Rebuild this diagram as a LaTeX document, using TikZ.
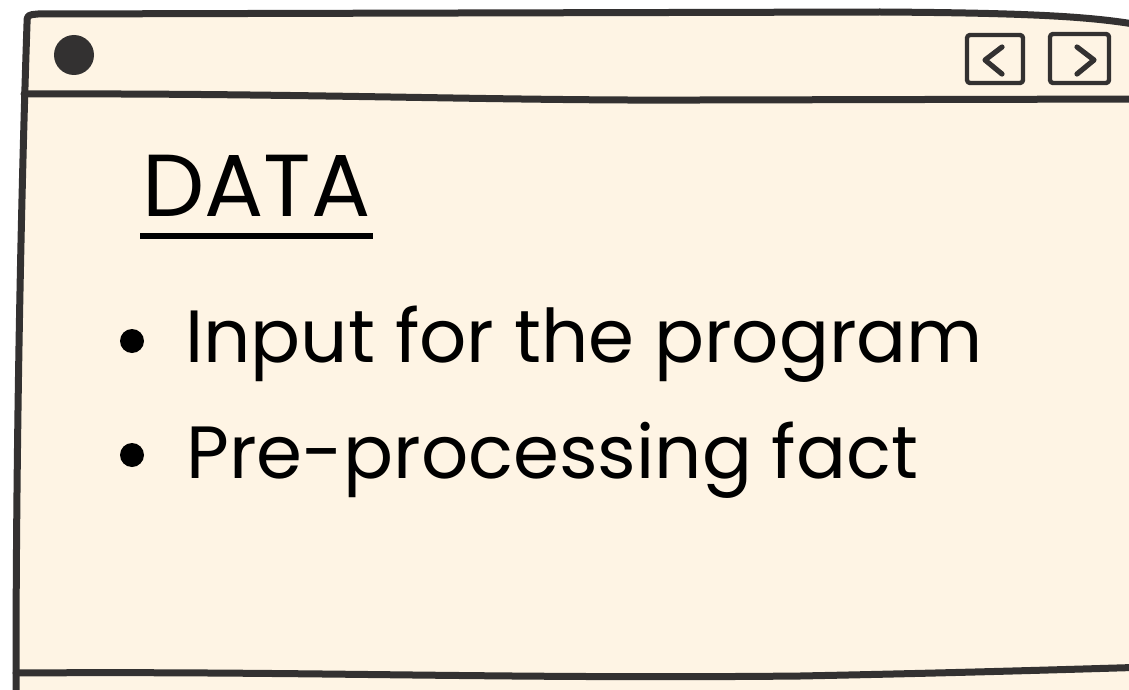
\documentclass[tikz,border=0pt]{standalone}
\usepackage{fontspec}
\setmainfont{Poppins}
\usepackage{tikz}
\definecolor{paper}{HTML}{FEF4E4}
\definecolor{ink}{HTML}{333131}

\begin{document}
\begin{tikzpicture}[x=0.5pt, y=-0.5pt, line join=round, line cap=round,
  frame/.style={draw=ink, line width=3.5pt},
  btn/.style={draw=ink, line width=2.2pt, rounded corners=1.5pt},
  chevron/.style={draw=ink, line width=2.6pt},
  itemtext/.style={anchor=base west, inner sep=0pt, font=\fontsize{37}{44}\selectfont},
  titletext/.style={anchor=base west, inner sep=0pt, font=\fontsize{44}{52}\selectfont}]
  \clip (0,0) rectangle (1129,690);
  \fill[white] (0,0) rectangle (1129,690);

  % --- window body ---
  \filldraw[frame, fill=paper] (27,24) .. controls (27,15) .. (38,14)
       -- (880,12) .. controls (1040,13) and (1100,17) .. (1150,27)
       -- (1150,710) -- (40,700) .. controls (16,700) .. (16,680)
       .. controls (16,450) and (21,200) .. (27,24) -- cycle;

  % --- title bar: dot and the two arrow buttons ---
  \draw[frame] (24,94) .. controls (300,93) and (500,101) .. (700,100) -- (1150,99);
  \fill[ink] (74,55) circle (10pt);
  \draw[btn] (967,35) rectangle (1023,83);
  \draw[btn] (1050,34) rectangle (1109,83);
  \draw[chevron] (1002,47) -- (985,60) -- (1002,74);
  \draw[chevron] (1077,47) -- (1094,60) -- (1077,74);

  % --- lower edge ---
  \draw[frame] (16,673) .. controls (300,671) and (500,679) .. (800,676)
       .. controls (950,673) and (1050,670) .. (1150,667);

  % --- title, underlined ---
  \node[titletext] (title) at (142,216) {DATA};
  \draw[black, line width=3pt, line cap=butt]
       ([xshift=-1pt, yshift=-9.75pt]title.base west) -- ([xshift=1pt, yshift=-9.75pt]title.base east);

  % --- the two points ---
  \node[itemtext] (input) at (185,362) {Input for the program};
  \node[itemtext] (prep) at (186,478) {Pre-processing fact};
  \fill (132,341) circle (6pt);
  \fill (132,455) circle (6pt);
\end{tikzpicture}
\end{document}
